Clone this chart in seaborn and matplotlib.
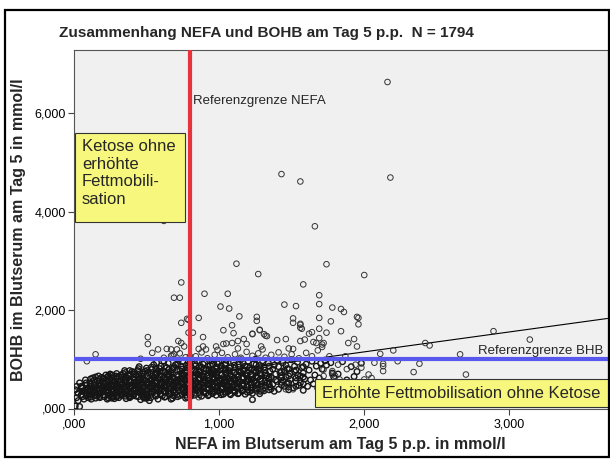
import matplotlib
matplotlib.use("Agg")
import matplotlib.pyplot as plt
import numpy as np
import pandas as pd
import seaborn as sns
from matplotlib.ticker import FixedLocator, FuncFormatter
from matplotlib.patches import Rectangle

# ---- data (mmol/l) ----
cloud_points = [
    (0.01,0.05),(0.04,0.04),(0.02,0.22),(0.03,0.31),(0.01,0.38),(0.05,0.27),(0.06,0.41),(0.07,0.19),(0.08,0.33),(0.09,0.48),
    (0.04,0.52),(0.06,0.24),(0.08,0.58),(0.02,0.45),(0.09,0.29),(0.07,0.36),(0.05,0.45),(0.10,0.22),(0.03,0.16),(0.10,0.40),
    (0.11,0.27),(0.12,0.45),(0.13,0.33),(0.14,0.58),(0.15,0.21),(0.16,0.39),(0.17,0.51),(0.18,0.29),(0.19,0.63),(0.20,0.44),
    (0.11,0.52),(0.12,0.19),(0.13,0.62),(0.14,0.36),(0.15,0.47),(0.16,0.25),(0.17,0.66),(0.18,0.40),(0.19,0.32),(0.20,0.55),
    (0.12,0.30),(0.14,0.48),(0.16,0.57),(0.18,0.22),(0.20,0.35),(0.13,0.41),(0.15,0.64),(0.17,0.31),(0.19,0.47),(0.11,0.37),
    (0.21,0.24),(0.22,0.51),(0.23,0.36),(0.24,0.67),(0.25,0.29),(0.26,0.45),(0.27,0.58),(0.28,0.20),(0.29,0.41),(0.30,0.63),
    (0.21,0.60),(0.22,0.33),(0.23,0.48),(0.24,0.27),(0.25,0.70),(0.26,0.38),(0.27,0.23),(0.28,0.55),(0.29,0.31),(0.30,0.47),
    (0.22,0.42),(0.24,0.55),(0.26,0.62),(0.28,0.36),(0.30,0.26),(0.23,0.19),(0.25,0.52),(0.27,0.40),(0.29,0.66),(0.21,0.44),
    (0.24,0.35),(0.26,0.21),(0.28,0.47),(0.22,0.68),
    (0.31,0.22),(0.32,0.54),(0.33,0.37),(0.34,0.71),(0.35,0.30),(0.36,0.46),(0.37,0.62),(0.38,0.25),(0.39,0.43),(0.40,0.75),
    (0.31,0.65),(0.32,0.29),(0.33,0.50),(0.34,0.41),(0.35,0.58),(0.36,0.20),(0.37,0.35),(0.38,0.68),(0.39,0.53),(0.40,0.32),
    (0.31,0.45),(0.33,0.27),(0.35,0.77),(0.37,0.48),(0.39,0.24),(0.32,0.40),(0.34,0.60),(0.36,0.33),(0.38,0.56),(0.40,0.45),
    (0.33,0.64),(0.35,0.42),(0.37,0.28),(0.39,0.70),(0.31,0.34),(0.36,0.57),
    (0.41,0.26),(0.42,0.58),(0.43,0.40),(0.44,0.77),(0.45,0.33),(0.46,0.49),(0.47,0.66),(0.48,0.22),(0.49,0.45),(0.50,0.82),
    (0.41,0.70),(0.42,0.31),(0.43,0.53),(0.44,0.44),(0.45,0.61),(0.46,0.18),(0.47,0.37),(0.48,0.73),(0.49,0.56),(0.50,0.29),
    (0.41,0.47),(0.43,0.25),(0.45,0.85),(0.47,0.51),(0.49,0.21),(0.42,0.42),(0.44,0.63),(0.46,0.35),(0.48,0.59),(0.50,0.48),
    (0.43,0.68),(0.45,0.46),(0.47,0.29),(0.49,0.76),(0.41,0.37),(0.46,0.60),(0.48,0.41),(0.44,0.54),
    (0.51,0.24),(0.52,0.61),(0.53,0.42),(0.54,0.80),(0.55,0.34),(0.56,0.52),(0.57,0.69),(0.58,0.19),(0.59,0.47),(0.60,0.86),
    (0.51,0.73),(0.52,0.33),(0.53,0.56),(0.54,0.45),(0.55,0.64),(0.56,0.27),(0.57,0.39),(0.58,0.76),(0.59,0.58),(0.60,0.30),
    (0.51,0.49),(0.53,0.22),(0.55,0.89),(0.57,0.53),(0.59,0.36),(0.52,0.44),(0.54,0.66),(0.56,0.38),(0.58,0.62),(0.60,0.50),
    (0.53,0.71),(0.55,0.48),(0.57,0.30),(0.59,0.81),(0.51,0.38),(0.56,0.63),(0.58,0.43),(0.54,0.57),(0.52,0.16),(0.57,0.93),
    (0.61,0.26),(0.62,0.63),(0.63,0.44),(0.64,0.83),(0.65,0.35),(0.66,0.55),(0.67,0.72),(0.68,0.21),(0.69,0.49),(0.70,0.89),
    (0.61,0.76),(0.62,0.35),(0.63,0.58),(0.64,0.47),(0.65,0.67),(0.66,0.29),(0.67,0.41),(0.68,0.79),(0.69,0.60),(0.70,0.32),
    (0.61,0.51),(0.63,0.24),(0.65,0.92),(0.67,0.55),(0.69,0.38),(0.62,0.46),(0.64,0.69),(0.66,0.40),(0.68,0.64),(0.70,0.52),
    (0.63,0.74),(0.65,0.50),(0.67,0.31),(0.69,0.85),(0.61,0.40),(0.66,0.66),(0.68,0.45),(0.64,0.59),(0.62,0.96),(0.67,0.19),
    (0.71,0.28),(0.72,0.65),(0.73,0.46),(0.74,0.86),(0.75,0.37),(0.76,0.57),(0.77,0.74),(0.78,0.23),(0.79,0.51),(0.80,0.92),
    (0.71,0.78),(0.72,0.37),(0.73,0.60),(0.74,0.49),(0.75,0.70),(0.76,0.31),(0.77,0.43),(0.78,0.82),(0.79,0.62),(0.80,0.34),
    (0.71,0.53),(0.73,0.26),(0.75,0.95),(0.77,0.58),(0.79,0.40),(0.72,0.48),(0.74,0.72),(0.76,0.42),(0.78,0.66),(0.80,0.55),
    (0.73,0.77),(0.75,0.52),(0.77,0.33),(0.79,0.88),(0.71,0.42),(0.76,0.68),(0.78,0.47),(0.74,0.61),(0.72,0.98),(0.77,0.21),
    (0.81,0.30),(0.82,0.66),(0.83,0.47),(0.84,0.87),(0.85,0.38),(0.86,0.58),(0.87,0.75),(0.88,0.25),(0.89,0.52),(0.90,0.93),
    (0.81,0.79),(0.82,0.38),(0.83,0.61),(0.84,0.50),(0.85,0.71),(0.86,0.32),(0.87,0.44),(0.88,0.83),(0.89,0.63),(0.90,0.35),
    (0.81,0.54),(0.83,0.27),(0.85,0.96),(0.87,0.59),(0.89,0.41),(0.82,0.49),(0.84,0.73),(0.86,0.43),(0.88,0.67),(0.90,0.56),
    (0.83,0.78),(0.85,0.53),(0.87,0.34),(0.89,0.90),(0.81,0.43),(0.86,0.69),(0.88,0.48),
    (0.91,0.31),(0.92,0.67),(0.93,0.48),(0.94,0.88),(0.95,0.39),(0.96,0.59),(0.97,0.76),(0.98,0.27),(0.99,0.53),(1.00,0.94),
    (0.91,0.80),(0.92,0.39),(0.93,0.62),(0.94,0.51),(0.95,0.72),(0.96,0.33),(0.97,0.45),(0.98,0.84),(0.99,0.64),(1.00,0.36),
    (0.91,0.55),(0.93,0.28),(0.95,0.97),(0.97,0.60),(0.99,0.42),(0.92,0.50),(0.94,0.74),(0.96,0.44),(0.98,0.68),(1.00,0.57),
    (0.93,0.79),(0.95,0.54),(0.97,0.35),(0.99,0.91),(0.96,0.70),
    (1.01,0.32),(1.02,0.68),(1.03,0.49),(1.04,0.89),(1.05,0.40),(1.06,0.60),(1.07,0.77),(1.08,0.28),(1.09,0.54),(1.10,0.95),
    (1.01,0.81),(1.02,0.40),(1.03,0.63),(1.04,0.52),(1.05,0.73),(1.06,0.34),(1.07,0.46),(1.08,0.85),(1.09,0.65),(1.10,0.37),
    (1.01,0.56),(1.03,0.29),(1.05,0.98),(1.07,0.61),(1.09,0.43),(1.02,0.51),(1.04,0.75),(1.06,0.45),(1.08,0.69),(1.10,0.58),
    (1.03,0.80),(1.05,0.55),(1.07,0.36),
    (1.11,0.33),(1.12,0.69),(1.13,0.50),(1.14,0.90),(1.15,0.41),(1.16,0.61),(1.17,0.78),(1.18,0.29),(1.19,0.55),(1.20,0.96),
    (1.11,0.82),(1.12,0.41),(1.13,0.64),(1.14,0.53),(1.15,0.74),(1.16,0.35),(1.17,0.47),(1.18,0.86),(1.19,0.66),(1.20,0.38),
    (1.11,0.57),(1.13,0.30),(1.15,0.99),(1.17,0.62),(1.19,0.44),(1.12,0.52),(1.14,0.76),(1.16,0.46),(1.18,0.70),(1.20,0.59),
    (1.21,0.34),(1.22,0.70),(1.23,0.18),(1.24,0.91),(1.25,0.42),(1.26,0.62),(1.27,0.79),(1.28,0.30),(1.29,0.56),(1.30,0.97),
    (1.21,0.83),(1.22,0.42),(1.23,0.65),(1.24,0.54),(1.25,0.75),(1.26,0.36),(1.27,0.48),(1.28,0.87),(1.29,0.67),(1.30,0.39),
    (1.21,0.58),(1.23,0.31),(1.25,1.00),(1.27,0.63),(1.29,0.45),(1.22,0.53),(1.24,0.77),(1.26,0.47),
    (1.31,0.36),(1.32,0.72),(1.33,0.52),(1.34,0.92),(1.35,0.44),(1.36,0.63),(1.37,0.80),(1.38,0.35),(1.39,0.58),(1.40,0.98),
    (1.31,0.84),(1.33,0.66),(1.35,0.76),(1.37,0.49),(1.39,0.70),(1.32,0.47),(1.36,0.40),(1.38,0.88),(1.40,0.55),(1.34,0.60),
    (1.41,0.39),(1.42,0.73),(1.43,0.53),(1.44,0.93),(1.45,0.45),(1.46,0.64),(1.47,0.81),(1.48,0.38),(1.49,0.59),(1.50,0.99),
    (1.41,0.85),(1.43,0.67),(1.45,0.77),(1.47,0.50),(1.49,0.71),(1.44,0.57),(1.46,0.88),(1.48,0.44),
    (1.51,0.42),(1.52,0.75),(1.53,0.55),(1.54,0.94),(1.55,0.47),(1.56,0.66),(1.57,0.83),(1.58,0.37),(1.59,0.60),(1.60,0.90),
    (1.52,0.86),(1.54,0.68),(1.56,0.52),(1.58,0.72),
    (1.61,0.45),(1.62,0.78),(1.63,0.58),(1.64,0.96),(1.65,0.50),(1.66,0.68),(1.67,0.86),(1.68,0.41),(1.69,0.62),(1.70,0.92),
    (1.72,0.55),(1.74,0.88),(1.76,0.48),(1.78,0.72),(1.73,0.97),(1.79,0.64),(1.71,0.80),(1.77,0.93),
    (1.82,0.70),(1.85,0.95),(1.88,0.58),(1.91,0.85),(1.84,0.47),(1.95,0.75),(1.98,0.92),(1.93,0.65),
]

core_points = [
    (0.055,0.28),(0.055,0.43),(0.055,0.35),(0.085,0.25),(0.085,0.39),(0.085,0.52),
    (0.115,0.23),(0.115,0.34),(0.115,0.49),(0.115,0.60),(0.145,0.27),(0.145,0.42),(0.145,0.53),(0.145,0.31),
    (0.175,0.24),(0.175,0.37),(0.175,0.45),(0.175,0.59),(0.205,0.28),(0.205,0.40),(0.205,0.50),(0.205,0.62),
    (0.235,0.22),(0.235,0.31),(0.235,0.44),(0.235,0.57),(0.235,0.65),(0.265,0.26),(0.265,0.35),(0.265,0.49),(0.265,0.55),(0.265,0.68),
    (0.295,0.23),(0.295,0.38),(0.295,0.45),(0.295,0.60),(0.295,0.71),(0.325,0.27),(0.325,0.33),(0.325,0.47),(0.325,0.58),(0.325,0.68),
    (0.355,0.25),(0.355,0.39),(0.355,0.52),(0.355,0.63),(0.355,0.73),(0.385,0.22),(0.385,0.31),(0.385,0.46),(0.385,0.59),(0.385,0.77),
    (0.415,0.29),(0.415,0.36),(0.415,0.51),(0.415,0.64),(0.415,0.74),(0.445,0.24),(0.445,0.40),(0.445,0.48),(0.445,0.57),(0.445,0.81),
    (0.475,0.27),(0.475,0.34),(0.475,0.44),(0.475,0.62),(0.475,0.70),(0.505,0.21),(0.505,0.38),(0.505,0.53),(0.505,0.66),(0.505,0.77),
    (0.535,0.29),(0.535,0.35),(0.535,0.49),(0.535,0.60),(0.535,0.84),(0.565,0.25),(0.565,0.43),(0.565,0.56),(0.565,0.72),(0.565,0.80),
    (0.595,0.28),(0.595,0.40),(0.595,0.52),(0.595,0.67),(0.595,0.75),(0.625,0.23),(0.625,0.33),(0.625,0.48),(0.625,0.61),(0.625,0.86),
    (0.655,0.30),(0.655,0.42),(0.655,0.57),(0.655,0.70),(0.655,0.79),(0.685,0.26),(0.685,0.37),(0.685,0.53),(0.685,0.62),(0.685,0.82),
    (0.715,0.24),(0.715,0.45),(0.715,0.58),(0.715,0.68),(0.715,0.90),(0.745,0.29),(0.745,0.40),(0.745,0.54),(0.745,0.65),(0.745,0.80),
    (0.775,0.27),(0.775,0.36),(0.775,0.50),(0.775,0.63),(0.775,0.77),(0.775,0.88),(0.805,0.25),(0.805,0.42),(0.805,0.59),(0.805,0.70),(0.805,0.84),
    (0.835,0.31),(0.835,0.40),(0.835,0.55),(0.835,0.66),(0.835,0.91),(0.865,0.28),(0.865,0.46),(0.865,0.62),(0.865,0.77),(0.865,0.85),
    (0.895,0.33),(0.895,0.44),(0.895,0.58),(0.895,0.71),(0.895,0.80),(0.925,0.26),(0.925,0.42),(0.925,0.57),(0.925,0.69),(0.925,0.86),
    (0.955,0.30),(0.955,0.47),(0.955,0.63),(0.955,0.77),(0.955,0.90),(0.985,0.35),(0.985,0.44),(0.985,0.56),(0.985,0.72),(0.985,0.81),
    (1.015,0.28),(1.015,0.43),(1.015,0.60),(1.015,0.69),(1.015,0.87),(1.045,0.33),(1.045,0.47),(1.045,0.58),(1.045,0.79),(1.045,0.92),
    (1.075,0.30),(1.075,0.41),(1.075,0.55),(1.075,0.66),(1.075,0.82),(1.105,0.35),(1.105,0.49),(1.105,0.62),(1.105,0.73),(1.105,0.88),
    (1.135,0.31),(1.135,0.44),(1.135,0.57),(1.135,0.68),(1.135,0.84),(1.165,0.38),(1.165,0.50),(1.165,0.64),(1.165,0.79),(1.165,0.93),
    (1.195,0.33),(1.195,0.45),(1.195,0.60),(1.195,0.72),(1.195,0.85),(1.225,0.37),(1.225,0.49),(1.225,0.58),(1.225,0.69),(1.225,0.80),
    (1.255,0.40),(1.255,0.52),(1.255,0.66),(1.255,0.74),(1.255,0.89),(1.285,0.35),(1.285,0.44),(1.285,0.60),(1.285,0.71),(1.285,0.83),
    (1.315,0.42),(1.315,0.55),(1.315,0.68),(1.315,0.78),(1.345,0.38),(1.345,0.50),(1.345,0.63),(1.345,0.86),
    (1.43,0.48),(1.43,0.62),(1.43,0.75),(1.48,0.52),(1.48,0.66),(1.48,0.80),(1.53,0.45),(1.53,0.62),(1.53,0.78),
    (1.58,0.50),(1.58,0.64),(1.58,0.85),
]

band_points = [
    (0.62,1.03),(0.68,1.08),(0.73,1.12),(0.77,1.04),(0.84,1.06),(0.88,1.14),(0.92,1.02),(0.97,1.09),(1.02,1.13),(1.06,1.04),
    (1.11,1.10),(1.15,1.03),(1.19,1.15),(1.23,1.07),(1.27,1.12),(1.32,1.03),(1.36,1.09),(1.41,1.14),(1.45,1.05),(1.50,1.10),
    (1.55,1.02),(1.60,1.13),(1.64,1.06),(1.68,1.18),(0.99,1.19),(1.13,1.22),(1.30,1.20),(1.48,1.22),(0.86,1.21),
]

outlier_points = [
    (2.16,6.63),(2.18,4.69),(1.43,4.76),(1.56,4.61),(0.62,3.81),(1.66,3.70),
    (1.12,2.94),(1.74,2.93),(1.27,2.73),(2.00,2.71),(0.74,2.56),(1.58,2.52),(1.69,2.30),
    (0.69,2.25),(0.73,2.25),(0.90,2.33),(1.06,2.33),
    (1.01,2.07),(1.07,2.03),(1.45,2.11),(1.53,2.08),(1.69,2.12),(1.78,2.05),(1.84,2.02),(1.86,1.96),
    (0.86,1.84),(1.14,1.87),(1.26,1.86),(1.26,1.78),(1.09,1.69),(1.03,1.59),(1.10,1.53),(1.23,1.52),(1.28,1.59),(1.32,1.48),
    (1.13,1.37),(1.05,1.32),(1.19,1.31),(0.89,1.45),(0.89,1.26),(0.91,1.20),(0.98,1.26),(1.29,1.26),(1.40,1.39),(1.46,1.41),
    (1.51,1.21),(1.56,1.37),(1.59,1.40),(1.51,1.83),(1.56,1.70),(1.57,1.62),(1.62,1.52),(1.64,1.55),(1.69,1.62),(1.65,1.35),
    (1.67,1.33),(1.71,1.30),(1.69,1.84),(1.77,1.77),(1.95,1.86),(1.96,1.84),(1.96,1.71),(1.74,1.54),(1.84,1.57),(1.69,1.43),
    (1.93,1.41),(1.89,1.33),(1.72,1.33),(1.95,1.26),(1.71,1.25),(2.11,1.11),(2.20,1.18),(2.42,1.33),(2.45,1.28),(1.76,1.06),
    (1.87,1.06),(2.66,1.10),(2.89,1.57),(3.14,1.40),
    (1.82,0.89),(1.88,0.80),(1.94,0.89),(1.98,0.83),(2.07,0.93),(2.13,0.91),(2.13,0.86),(2.23,0.96),(2.13,0.76),(2.34,0.74),
    (2.38,0.91),(2.03,0.69),(2.05,0.62),(2.00,0.59),(1.78,0.76),(1.78,0.69),(1.80,0.66),(1.83,0.59),(1.72,0.79),(1.72,0.66),
    (2.51,0.51),(2.56,0.53),(2.70,0.69),
    (0.51,1.45),(0.51,1.31),(0.15,1.10),(0.09,0.96),(0.74,1.74),(0.78,1.82),(0.54,1.13),(0.58,1.20),(0.64,1.21),(0.67,1.20),
    (0.71,1.20),(0.72,1.37),(0.74,1.33),(0.76,1.26),(0.79,1.54),(0.46,1.01),(0.67,1.07),(0.69,1.10),(0.80,1.06),(0.79,1.80),
    (0.82,1.54),(1.23,1.51),(1.28,1.60),(1.31,1.51),(1.33,1.47),(1.17,1.41),(1.03,1.31),(1.09,1.33),(1.51,1.74),(1.56,1.72),
    (1.56,1.64),(1.23,0.18),(0.86,0.23),(1.46,0.39),(1.51,0.39),(1.27,0.35),(1.31,0.39),
]

ref_nefa = 0.8          # Referenzgrenze NEFA
ref_bhb = 1.0           # Referenzgrenze BHB
fit_intercept = 0.34    # fitted line
fit_slope = 0.405
x_ticks = [0, 1, 2, 3]
y_ticks = [0, 2, 4, 6]
x_max = 3.675
y_max = 7.28

df_dense = pd.DataFrame(cloud_points + core_points, columns=["NEFA", "BOHB"])
df_sparse = pd.DataFrame(band_points + outlier_points, columns=["NEFA", "BOHB"])

sns.set_style("white")
plt.rcParams["font.family"] = ["Liberation Sans", "DejaVu Sans"]

fig = plt.figure(figsize=(6.10, 4.59), dpi=100)
ax = fig.add_axes([73.8 / 610, 1 - 408.5 / 459, (607.5 - 73.8) / 610, (408.5 - 50) / 459])
ax.set_facecolor("#F0F0F0")

# fitted line (under the points)
ax.axline((0, fit_intercept), slope=fit_slope, color="black", lw=0.8, zorder=2)

sns.scatterplot(data=df_dense, x="NEFA", y="BOHB", ax=ax, marker="o", s=16,
                facecolors="none", edgecolor="#151515", linewidth=1.0, zorder=3)
sns.scatterplot(data=df_sparse, x="NEFA", y="BOHB", ax=ax, marker="o", s=16,
                facecolors="none", edgecolor="#333333", linewidth=0.7, zorder=3)

ax.set_xlim(0, x_max)
ax.set_ylim(0, y_max)
ax.set_xlabel("")
ax.set_ylabel("")

# reference lines
ax.axvline(ref_nefa, color="#E8323C", lw=3.0, zorder=5)
ax.axhline(ref_bhb, color="#5858EE", lw=3.0, zorder=5)

def fmt(v, pos):
    s = f"{v:.3f}".replace(".", ",")
    if s.startswith("0,"):
        s = s[1:]
    return s

ax.xaxis.set_major_locator(FixedLocator(x_ticks))
ax.yaxis.set_major_locator(FixedLocator(y_ticks))
ax.xaxis.set_major_formatter(FuncFormatter(fmt))
ax.yaxis.set_major_formatter(FuncFormatter(fmt))
ax.tick_params(axis="both", direction="out", length=4, width=0.8, color="#444444",
               labelsize=9, labelcolor="black", bottom=True, left=True, pad=1.5)
ax.tick_params(axis="x", pad=3)
for sp in ax.spines.values():
    sp.set_color("#555555")
    sp.set_linewidth(0.8)

ax.set_xlabel("NEFA im Blutserum am Tag 5 p.p. in mmol/l", fontsize=11.5, fontweight="bold", labelpad=5)
ax.set_ylabel("BOHB im Blutserum am Tag 5 in mmol/l", fontsize=11.5, fontweight="bold", labelpad=6)

fig.text(266 / 610, 1 - 33 / 459, "Zusammenhang NEFA und BOHB am Tag 5 p.p.  N = 1794",
         ha="center", va="center", fontsize=11, fontweight="bold")

# annotation texts
ax.text(ref_nefa + 0.02, 6.25, "Referenzgrenze NEFA", fontsize=9.5, ha="left", va="center", zorder=6)
ax.text(0.993, (408.5 - 351) / 49.25 / y_max, "Referenzgrenze BHB", transform=ax.transAxes,
        fontsize=9.5, ha="right", va="center", zorder=6)

box_col = "#F7F77E"
ax.add_patch(Rectangle((1.5 / 145.2, 3.79), 0.754, 1.80, facecolor=box_col,
                       edgecolor="#333333", lw=0.8, zorder=6))
ax.text(0.055, 5.47, "Ketose ohne\nerhöhte\nFettmobili-\nsation", fontsize=12,
        ha="left", va="top", linespacing=1.22, zorder=7)

ax.add_patch(Rectangle(((315 - 73.8) / 145.2, 0.03), x_max, (408.5 - 379) / 49.25 - 0.03,
                       facecolor=box_col, edgecolor="#333333", lw=0.8, zorder=6, clip_on=True))
ax.text(((315 + 607) / 2 - 73.8) / 145.2, (408.5 - 393) / 49.25, "Erhöhte Fettmobilisation ohne Ketose",
        fontsize=12, ha="center", va="center", zorder=7)

# outer frame
fig.add_artist(Rectangle((5 / 610, 2 / 459), 603.5 / 610, 447 / 459, transform=fig.transFigure,
                         fill=False, edgecolor="black", lw=1.6))

fig.savefig("out.png", dpi=100)
